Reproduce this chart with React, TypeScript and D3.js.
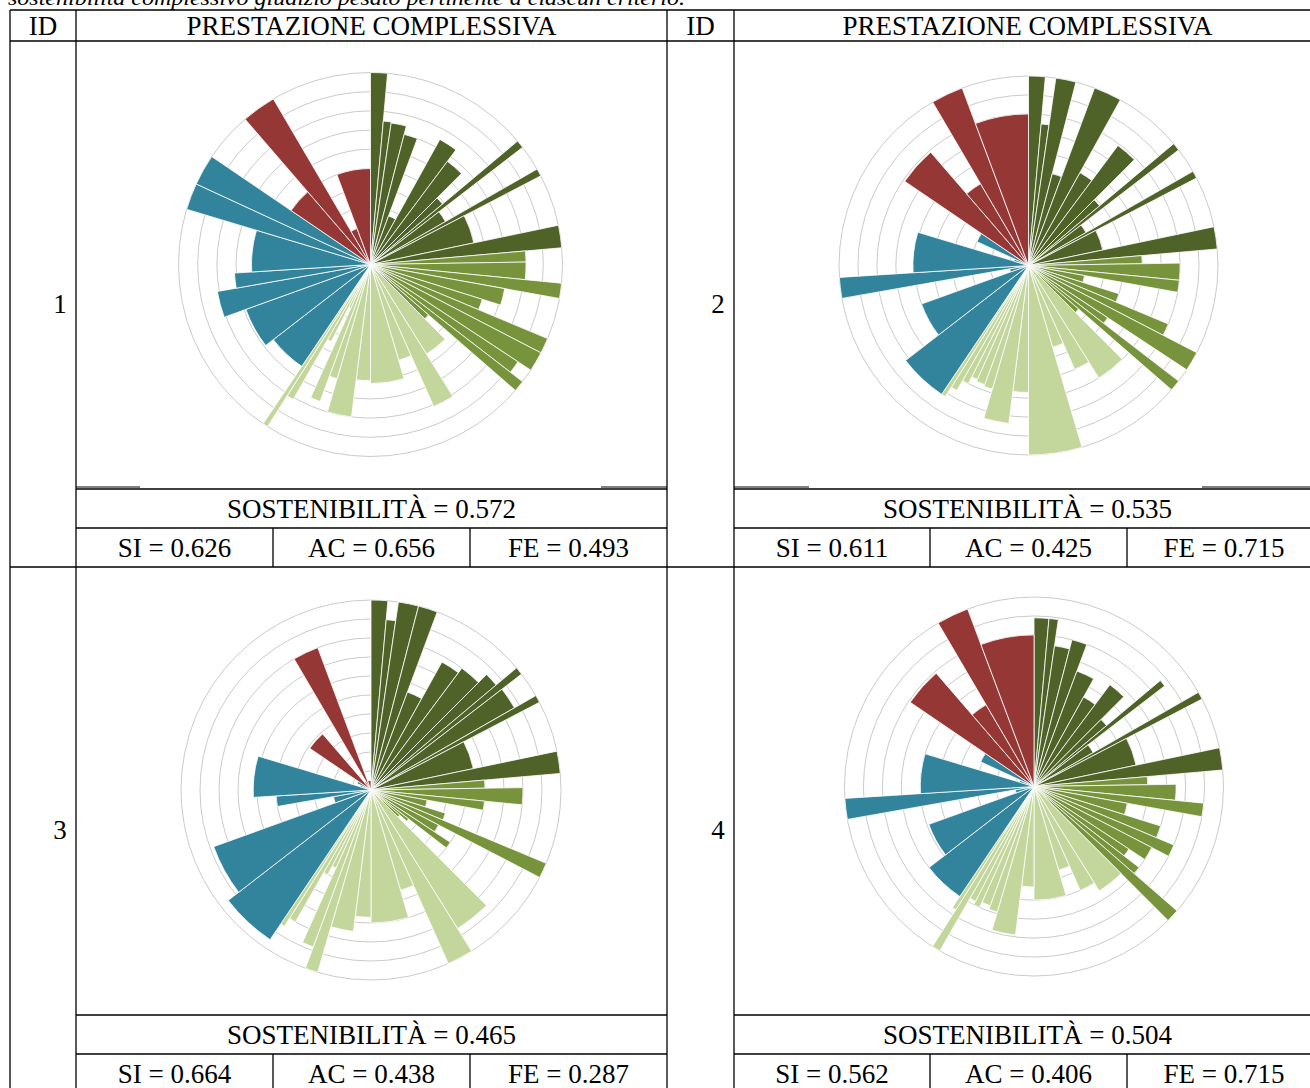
import React from 'react';
import * as d3 from 'd3';

// ---- data ----
const groupColors = ['#4f6228', '#77933c', '#c3d69b', '#31849b', '#953735'];
const groupSizes = [13, 10, 12, 7, 4];
// angular weight of every criterion (degrees of the full circle)
const weights = [
  5.1, 3.2, 6.2, 5.9, 8.6, 7.7, 8.3, 5.0, 2.4, 7.8, 2.3, 15.7, 6.8,
  4.1, 6.5, 4.6, 7.1, 5.4, 4.7, 6.0, 4.2, 3.4, 4.0,
  13, 8, 7.6, 16.4, 7.1, 9.2, 3.9, 4.0, 2.8, 2.8, 2.6, 1.6,
  18.3, 17.9, 9.8, 6.4, 20.3, 8.1, 9.4,
  15.0, 10.4, 9.9, 20.5,
];
const scores1 = [
  1.0, 0.75, 0.745, 0.70, 0.27, 0.745, 0.67, 0.49, 1.0, 0.45, 1.0, 0.55, 1.0,
  0.81, 0.81, 1.0, 0.71, 0.61, 1.0, 1.0, 0.92, 1.0, 0.40,
  0.55, 0.81, 0.52, 0.62, 0.605, 0.80, 0.62, 0.76, 0.25, 0.45, 0.81, 1.0,
  0.64, 0.69, 0.81, 0.71, 0.62, 1.0, 1.0,
  0.5, 1.0, 0.2, 0.5,
];
const scores2 = [
  1.0, 0.75, 1.0, 0.5, 1.0, 0.56, 0.79, 0.49, 1.0, 0.35, 1.0, 0.4, 1.0,
  0.6, 0.8, 0.8, 0.3, 0.5, 0.8, 1.0, 0.5, 1.0, 0.35,
  0.7, 0.6, 0.45, 1.0, 0.67, 0.84, 0.68, 0.67, 0.66, 0.7, 0.76, 0.82,
  0.82, 0.6, 0.1, 1.0, 0.61, 0.08, 0.3,
  0.79, 0.5, 1.0, 0.8,
];
const scores3 = [
  1.0, 0.9, 1.0, 1.0, 0.55, 0.77, 0.8, 0.86, 1.0, 0.87, 1.0, 0.55, 1.0,
  0.6, 0.8, 0.6, 0.3, 0.41, 1.0, 0.4, 0.5, 0.25, 0.2,
  0.86, 1.0, 0.55, 0.7, 0.67, 0.75, 1.0, 0.88, 0.45, 0.5, 0.8, 0.85,
  0.95, 0.88, 0.2, 0.5, 0.62, 0.06, 0.08,
  0.39, 0.05, 0.8, 0.05,
];
const scores4 = [
  0.89, 0.89, 0.75, 0.8, 0.65, 0.54, 0.67, 0.5, 0.87, 0.36, 1.0, 0.55, 1.0,
  0.6, 0.75, 0.9, 0.5, 0.7, 0.8, 0.7, 0.6, 0.7, 1.0,
  0.65, 0.6, 0.46, 0.6, 0.53, 0.79, 0.69, 0.67, 0.7, 0.68, 1.0, 0.77,
  0.7, 0.59, 0.1, 1.0, 0.6, 0.08, 0.31,
  0.79, 0.5, 1.0, 0.8,
];
const panelIds = ['1', '2', '3', '4'];
const sostValues = [0.572, 0.535, 0.465, 0.504];
const siValues = [0.626, 0.611, 0.664, 0.562];
const acValues = [0.656, 0.425, 0.438, 0.406];
const feValues = [0.493, 0.715, 0.287, 0.715];
const gridTicks = [0.1, 0.2, 0.3, 0.4, 0.5, 0.6, 0.7, 0.8, 0.9, 1.0];
const headerId = 'ID';
const headerTitle = 'PRESTAZIONE COMPLESSIVA';
const caption = 'sostenibilità complessivo giudizio pesato pertinente a ciascun criterio.';

const allScores = [scores1, scores2, scores3, scores4];
const fmt = d3.format('.3f');

const groupIndex: number[] = [];
groupSizes.forEach((n, g) => { for (let i = 0; i < n; i++) groupIndex.push(g); });

function Polar({ cx, cy, R, scores }: { cx: number; cy: number; R: number; scores: number[] }) {
  const total = d3.sum(weights);
  const ang = d3.scaleLinear().domain([0, total]).range([0, 2 * Math.PI]);
  const rad = d3.scaleLinear().domain([0, 1]).range([0, R]);
  const ends = Array.from(d3.cumsum(weights));
  const arc = d3.arc<any>();
  return (
    <g transform={`translate(${cx},${cy})`}>
      {gridTicks.map((t) => (
        <circle key={t} r={rad(t)} fill="none" stroke="#c4c4c4" strokeWidth={0.9} />
      ))}
      {scores.map((v, i) => {
        const a0 = ang(i === 0 ? 0 : ends[i - 1]);
        const a1 = ang(ends[i]);
        const d = arc({ innerRadius: 0, outerRadius: rad(v), startAngle: a0, endAngle: a1 }) || '';
        return <path key={i} d={d} fill={groupColors[groupIndex[i]]} stroke="#ffffff" strokeWidth={0.8} strokeLinejoin="miter" />;
      })}
    </g>
  );
}

export default function App() {
  const font = '"Liberation Serif", "Times New Roman", serif';
  const fs = 27;
  const xL = 10, xRight = 1321;
  const cols = [
    { idL: 10, idR: 76, cL: 76, cR: 667, split: [273, 470] },
    { idL: 667, idR: 734, cL: 734, cR: 1321, split: [930, 1127] },
  ];
  const rows = [
    { top: 41, sost: 489, sub: 528, bot: 567 },
    { top: 567, sost: 1015, sub: 1054, bot: 1093 },
  ];
  const centers = [
    { cx: 370.5, cy: 264.5, R: 192 },
    { cx: 1028.5, cy: 265.5, R: 189.5 },
    { cx: 371, cy: 790, R: 190 },
    { cx: 1034, cy: 786.5, R: 189.5 },
  ];
  const lw = 1.3;
  const lines: any[] = [];
  const H = (x1: number, x2: number, y: number, k: string) =>
    lines.push(<line key={k} x1={x1} x2={x2} y1={y} y2={y} stroke="#000" strokeWidth={lw} />);
  const V = (x: number, y1: number, y2: number, k: string) =>
    lines.push(<line key={k} x1={x} x2={x} y1={y1} y2={y2} stroke="#000" strokeWidth={lw} />);
  H(xL, xRight, 10, 'h0');
  H(xL, xRight, 41, 'h1');
  H(xL, xRight, 567, 'h2');
  [10, 76, 667, 734].forEach((x, i) => V(x, 10, 1100, 'v' + i));
  rows.forEach((r, ri) =>
    cols.forEach((c, ci) => {
      H(c.cL, c.cR, r.sost, `s${ri}${ci}`);
      H(c.cL, c.cR, r.sub, `u${ri}${ci}`);
      c.split.forEach((x, k) => V(x, r.sub, r.bot, `sp${ri}${ci}${k}`));
    })
  );
  // faint picture frame edges above the summary row
  [[76, 140], [601, 667], [734, 809], [1202, 1321]].forEach(([a, b], i) =>
    lines.push(<line key={'f' + i} x1={a} x2={b} y1={487} y2={487} stroke="#000" strokeWidth={1} />)
  );

  const texts: any[] = [];
  cols.forEach((c, ci) => {
    texts.push(<text key={'hid' + ci} x={(c.idL + c.idR) / 2} y={35} textAnchor="middle">{headerId}</text>);
    texts.push(<text key={'ht' + ci} x={(c.cL + c.cR) / 2} y={35} textAnchor="middle">{headerTitle}</text>);
  });
  panelIds.forEach((id, p) => {
    const c = cols[p % 2];
    const r = rows[Math.floor(p / 2)];
    texts.push(<text key={'id' + p} x={c.idR - 16} y={(r.top + r.bot) / 2 + 9} textAnchor="middle">{id}</text>);
    texts.push(
      <text key={'so' + p} x={(c.cL + c.cR) / 2} y={r.sost + 29} textAnchor="middle">
        {`SOSTENIBILITÀ = ${fmt(sostValues[p])}`}
      </text>
    );
    const xs = [c.cL, c.split[0], c.split[1], c.cR];
    const labels = [`SI = ${fmt(siValues[p])}`, `AC = ${fmt(acValues[p])}`, `FE = ${fmt(feValues[p])}`];
    labels.forEach((l, k) =>
      texts.push(
        <text key={`sub${p}${k}`} x={(xs[k] + xs[k + 1]) / 2} y={r.sub + 29} textAnchor="middle">{l}</text>
      )
    );
  });

  return (
    <div style={{ position: 'absolute', left: 0, top: 0 }}>
      <svg width={1310} height={1088} style={{ display: 'block', background: '#fff' }}>
        <rect x={0} y={0} width={1310} height={1088} fill="#fff" />
        <text x={8} y={4.5} fontFamily={font} fontStyle="italic" fontSize={22} textLength={677} lengthAdjust="spacingAndGlyphs">
          {caption}
        </text>
        {allScores.map((s, i) => (
          <Polar key={i} cx={centers[i].cx} cy={centers[i].cy} R={centers[i].R} scores={s} />
        ))}
        {lines}
        <g fontFamily={font} fontSize={fs} fill="#000">{texts}</g>
      </svg>
    </div>
  );
}
